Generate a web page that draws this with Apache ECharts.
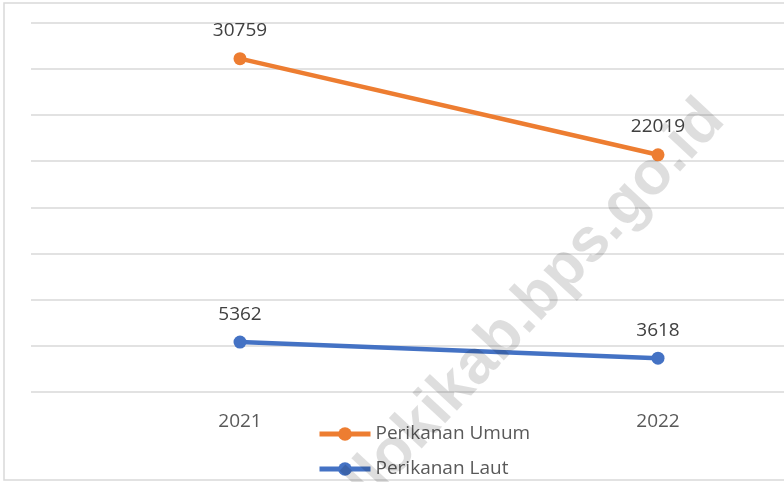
<!DOCTYPE html>
<html>
<head>
<meta charset="utf-8">
<script src="https://cdn.jsdelivr.net/npm/echarts@6/dist/echarts.min.js"></script>
<style>
  html, body { margin: 0; padding: 0; background: #fff; }
  #chart { width: 784px; height: 482px; }
</style>
</head>
<body>
<div id="chart"></div>
<script>
// data
const years = ['2021', '2022']
const perikananUmum = [30759, 22019]
const perikananLaut = [5362, 3618]

const fontFamily = '"Open Sans", "Noto Sans", sans-serif'

const labelStyle = {
  show: true,
  position: 'top',
  distance: 12,
  color: '#404040',
  fontSize: 19,
  fontFamily: fontFamily
}

const myChart = echarts.init(document.getElementById('chart'))

const option = {
  backgroundColor: '#fff',
  animation: false,
  grid: {
    left: 31,
    width: 836,
    top: 23,
    bottom: 90.5,
    outerBoundsMode: 'none'
  },
  legend: {
    orient: 'vertical',
    left: 317,
    top: 424,
    padding: 0,
    itemWidth: 51,
    itemHeight: 17,
    itemGap: 15,
    lineStyle: { width: 5 },
    textStyle: {
      color: '#595959',
      fontSize: 19,
      lineHeight: 20,
      fontFamily: fontFamily
    },
    data: ['Perikanan Umum', 'Perikanan Laut']
  },
  xAxis: {
    type: 'category',
    data: years,
    axisLine: { show: false },
    axisTick: { show: false },
    axisLabel: {
      color: '#595959',
      fontSize: 19,
      margin: 21,
      fontFamily: fontFamily
    }
  },
  yAxis: [
    {
      type: 'value',
      min: 0,
      max: 40000,
      interval: 5000,
      axisLabel: { show: false },
      axisLine: { show: false },
      axisTick: { show: false },
      splitLine: { lineStyle: { color: '#D9D9D9', width: 1.5 } }
    },
    {
      // hidden secondary axis for Perikanan Umum
      type: 'value',
      min: 500,
      max: 34000,
      show: false,
      splitLine: { show: false }
    }
  ],
  series: [
    {
      name: 'Perikanan Umum',
      type: 'line',
      yAxisIndex: 1,
      data: perikananUmum,
      symbol: 'circle',
      symbolSize: 13,
      itemStyle: { color: '#ED7D31' },
      lineStyle: { color: '#ED7D31', width: 4.5 },
      label: labelStyle
    },
    {
      name: 'Perikanan Laut',
      type: 'line',
      yAxisIndex: 0,
      data: perikananLaut,
      symbol: 'circle',
      symbolSize: 13,
      itemStyle: { color: '#4472C4' },
      lineStyle: { color: '#4472C4', width: 4.5 },
      label: labelStyle
    }
  ],
  graphic: [
    {
      type: 'rect',
      silent: true,
      z: -1,
      shape: { x: 4, y: 3, width: 800, height: 477 },
      style: { fill: 'none', stroke: '#D9D9D9', lineWidth: 1.5 }
    },
    {
      // watermark
      type: 'text',
      silent: true,
      z: 100,
      x: 714,
      y: 110,
      rotation: Math.PI * 47 / 180,
      style: {
        text: 'llokikab.bps.go.id',
        align: 'right',
        verticalAlign: 'middle',
        fill: 'rgba(0,0,0,0.13)',
        font: 'bold 62px "Liberation Sans", sans-serif'
      }
    }
  ]
}

myChart.setOption(option)
</script>
</body>
</html>
